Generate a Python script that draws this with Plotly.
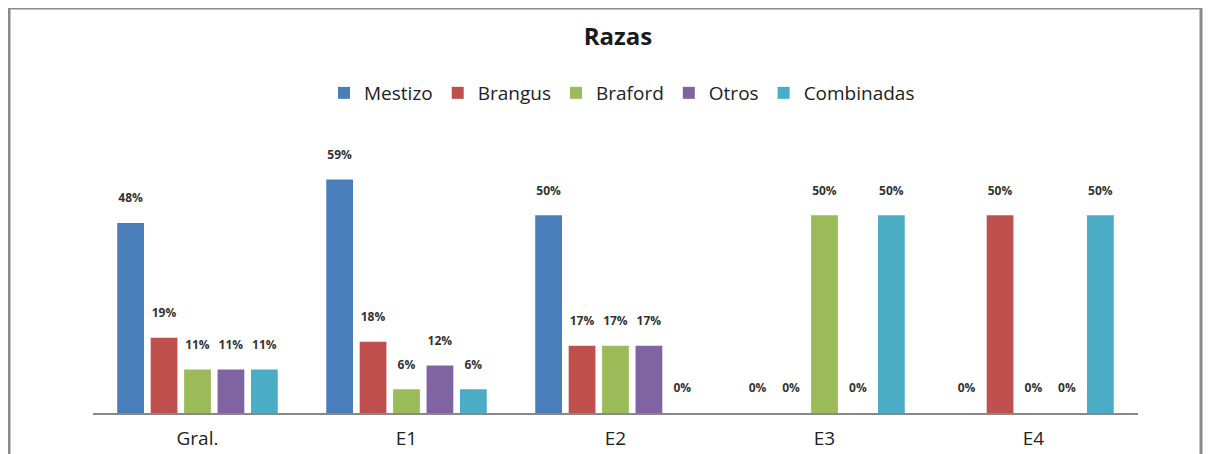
import plotly.graph_objects as go

categories = ["Gral.", "E1", "E2", "E3", "E4"]
series_names = ["Mestizo", "Brangus", "Braford", "Otros", "Combinadas"]
mestizo = [48, 59, 50, 0, 0]
brangus = [19, 18, 17, 0, 50]
braford = [11, 6, 17, 50, 0]
otros = [11, 12, 17, 0, 0]
combinadas = [11, 6, 0, 50, 50]
colors = ["#4a7ebb", "#c0504d", "#9bbb59", "#8064a2", "#4bacc6"]

# page body has an 8px margin: build the figure 8px smaller and shift coords
OFF = 8
W, H = 1211 - OFF, 454 - OFF
L = 93 - OFF
PR = 1138 - OFF
PT, PB = 136 - OFF, 413 - OFF
R, T, B = W - PR, PT, H - PB
pw, ph = PR - L, PB - PT

FONT = "Open Sans, sans-serif"

fig = go.Figure()
for name, vals, c in zip(series_names, [mestizo, brangus, braford, otros, combinadas], colors):
    fig.add_trace(go.Bar(
        x=categories, y=vals, name=name,
        marker=dict(color=c, line=dict(width=0)),
        texttemplate="<b>%{y}%</b><br><span style='font-size:7px'> </span>", textposition="outside",
        textfont=dict(family=FONT, size=12, color="#333333"),
        cliponaxis=False,
    ))

def px_x(x):
    return (x - OFF - L) / pw

def px_y(y):
    return (PB - (y - OFF)) / ph

fig.update_layout(
    width=W, height=H,
    margin=dict(l=L, r=R, t=T, b=B, autoexpand=False),
    paper_bgcolor="white", plot_bgcolor="white",
    barmode="group", bargap=0.2, bargroupgap=0.2,
    title=dict(text="<b>Razas</b>", x=(618 - OFF) / W, xanchor="center", xref="container",
               y=1 - (37 - OFF) / H, yanchor="middle", yref="container",
               font=dict(family=FONT, size=24, color="#1a1a1a")),
    legend=dict(orientation="h", x=px_x(622), xanchor="center", y=px_y(93), yanchor="middle",
                font=dict(family=FONT, size=19, color="#222222"),
                itemwidth=30, traceorder="normal"),
    xaxis=dict(showline=True, linecolor="#888888", linewidth=2, ticks="", showgrid=False,
               ticklabelstandoff=7,
               tickfont=dict(family=FONT, size=19, color="#222222")),
    yaxis=dict(range=[0, 70], visible=False, showgrid=False),
    showlegend=True,
    shapes=[
        dict(type="rect", xref="paper", yref="paper",
             x0=px_x(9), x1=px_x(1201), y0=px_y(480), y1=px_y(8),
             line=dict(color="#8a8a8a", width=3), fillcolor="rgba(0,0,0,0)", layer="below"),
    ],
)

fig.write_html("out.html")
